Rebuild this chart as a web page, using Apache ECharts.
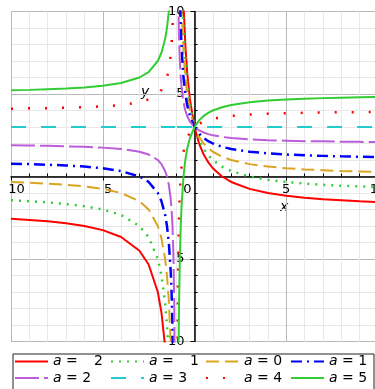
<!DOCTYPE html>
<html><head><meta charset="utf-8">
<script src="https://cdn.jsdelivr.net/npm/echarts@6/dist/echarts.min.js"></script>
<style>html,body{margin:0;padding:0;background:#fff}#c{width:375px;height:389px}</style>
</head><body><div id="c"></div>
<script>
const aValues = [-2, -1, 0, 1, 2, 3, 4, 5];
const leftX  = [-10, -9, -8, -7, -6, -5, -4, -3, -2.5, -2, -1.8, -1.6, -1.5, -1.4, -1.3, -1.25, -1.2, -1.15, -1.1, -1.05];
const rightX = [-0.95, -0.9, -0.85, -0.8, -0.75, -0.7, -0.6, -0.5, -0.4, -0.25, 0, 0.25, 0.5, 0.75, 1, 1.5, 2, 3, 4, 5, 6, 7, 8, 9, 10];

const left_am2 = [-2.56, -2.63, -2.71, -2.83, -3, -3.25, -3.67, -4.5, -5.33, -7, -8.25, -10.33, -12, -14.5, -18.67, -22, -27, -35.33, -52, -102];
const left_am1 = [-1.44, -1.5, -1.57, -1.67, -1.8, -2, -2.33, -3, -3.67, -5, -6, -7.67, -9, -11, -14.33, -17, -21, -27.67, -41, -81];
const left_a0  = [-0.33, -0.38, -0.43, -0.5, -0.6, -0.75, -1, -1.5, -2, -3, -3.75, -5, -6, -7.5, -10, -12, -15, -20, -30, -60];
const left_a1  = [0.78, 0.75, 0.71, 0.67, 0.6, 0.5, 0.33, 0, -0.33, -1, -1.5, -2.33, -3, -4, -5.67, -7, -9, -12.33, -19, -39];
const left_a2  = [1.89, 1.88, 1.86, 1.83, 1.8, 1.75, 1.67, 1.5, 1.33, 1, 0.75, 0.33, 0, -0.5, -1.33, -2, -3, -4.67, -8, -18];
const left_a3  = [3, 3, 3, 3, 3, 3, 3, 3, 3, 3, 3, 3, 3, 3, 3, 3, 3, 3, 3, 3];
const left_a4  = [4.11, 4.13, 4.14, 4.17, 4.2, 4.25, 4.33, 4.5, 4.67, 5, 5.25, 5.67, 6, 6.5, 7.33, 8, 9, 10.67, 14, 24];
const left_a5  = [5.22, 5.25, 5.29, 5.33, 5.4, 5.5, 5.67, 6, 6.33, 7, 7.5, 8.33, 9, 10, 11.67, 13, 15, 18.33, 25, 45];

const right_am2 = [98, 48, 31.33, 23, 18, 14.67, 10.5, 8, 6.33, 4.67, 3, 2, 1.33, 0.86, 0.5, 0, -0.33, -0.75, -1, -1.17, -1.29, -1.38, -1.44, -1.5, -1.55];
const right_am1 = [79, 39, 25.67, 19, 15, 12.33, 9, 7, 5.67, 4.33, 3, 2.2, 1.67, 1.29, 1, 0.6, 0.33, 0, -0.2, -0.33, -0.43, -0.5, -0.56, -0.6, -0.64];
const right_a0  = [60, 30, 20, 15, 12, 10, 7.5, 6, 5, 4, 3, 2.4, 2, 1.71, 1.5, 1.2, 1, 0.75, 0.6, 0.5, 0.43, 0.38, 0.33, 0.3, 0.27];
const right_a1  = [41, 21, 14.33, 11, 9, 7.67, 6, 5, 4.33, 3.67, 3, 2.6, 2.33, 2.14, 2, 1.8, 1.67, 1.5, 1.4, 1.33, 1.29, 1.25, 1.22, 1.2, 1.18];
const right_a2  = [22, 12, 8.67, 7, 6, 5.33, 4.5, 4, 3.67, 3.33, 3, 2.8, 2.67, 2.57, 2.5, 2.4, 2.33, 2.25, 2.2, 2.17, 2.14, 2.13, 2.11, 2.1, 2.09];
const right_a3  = [3, 3, 3, 3, 3, 3, 3, 3, 3, 3, 3, 3, 3, 3, 3, 3, 3, 3, 3, 3, 3, 3, 3, 3, 3];
const right_a4  = [-16, -6, -2.67, -1, 0, 0.67, 1.5, 2, 2.33, 2.67, 3, 3.2, 3.33, 3.43, 3.5, 3.6, 3.67, 3.75, 3.8, 3.83, 3.86, 3.88, 3.89, 3.9, 3.91];
const right_a5  = [-35, -15, -8.33, -5, -3, -1.67, 0, 1, 1.67, 2.33, 3, 3.4, 3.67, 3.86, 4, 4.2, 4.33, 4.5, 4.6, 4.67, 4.71, 4.75, 4.78, 4.8, 4.82];

const axisTicks = [-10, -5, 0, 5, 10];

const leftYs  = [left_am2, left_am1, left_a0, left_a1, left_a2, left_a3, left_a4, left_a5];
const rightYs = [right_am2, right_am1, right_a0, right_a1, right_a2, right_a3, right_a4, right_a5];

const styles = [
  {color: '#ff0000', type: 'solid', width: 2},
  {color: '#33cc33', type: [2, 6], width: 2.5},
  {color: '#daa520', type: [13, 6], width: 2},
  {color: '#0000ff', type: [11, 5, 2, 5], width: 2.5},
  {color: '#bb5ddb', type: [24, 5], width: 2},
  {color: '#22cccc', type: [15, 15], width: 2},
  {color: '#ff0000', type: [2, 15], width: 2.5},
  {color: '#33cc33', type: 'solid', width: 2}
];

const names = aValues.map(a => 'a = ' + (a < 0 ? '\u2212' : '') + Math.abs(a));
const labelFor = {};
aValues.forEach((a, i) => {
  labelFor[names[i]] = '{i|a} = ' + (a < 0 ? '{h|\u2212}' : '') + Math.abs(a);
});

const FONT = 'DejaVu Sans';

const series = aValues.map((a, i) => ({
  name: names[i],
  type: 'line',
  symbol: 'none',
  showSymbol: false,
  clip: true,
  animation: false,
  data: leftX.map((x, k) => [x, leftYs[i][k]])
        .concat([[-1, null]])
        .concat(rightX.map((x, k) => [x, rightYs[i][k]])),
  connectNulls: false,
  lineStyle: {color: styles[i].color, type: styles[i].type, width: styles[i].width, cap: 'butt'},
  itemStyle: {color: styles[i].color},
  z: 3 + i
}));

const colX = [14, 110, 205, 290];
const legends = [0, 1, 2, 3].map(c => ({
  orient: 'vertical',
  left: colX[c],
  top: 354.5,
  itemWidth: 33,
  itemHeight: 14,
  itemGap: 2.6,
  padding: 0,
  selectedMode: false,
  itemStyle: {opacity: 0},
  data: [names[c], names[c + 4]],
  formatter: n => labelFor[n],
  textStyle: {
    fontFamily: FONT, fontSize: 14, color: '#000',
    rich: {i: {fontStyle: 'italic', fontFamily: FONT, fontSize: 14}, h: {color: 'transparent', fontFamily: FONT, fontSize: 14}}
  }
}));

function tickFmt(v, isX) {
  if (v === 0) return isX ? '{z|0}' : '';
  return (v < 0 ? '{h|\u2212}' : '') + Math.abs(v);
}

// grid geometry (px)
const G = {left: 11, top: 11.5, width: 367, height: 330};

const axisCommon = {
  type: 'value', min: axisTicks[0], max: axisTicks[axisTicks.length - 1], interval: 5,
  axisLine: {onZero: false, lineStyle: {color: '#000', width: 1.5}},
  axisTick: {show: true, length: 4, lineStyle: {color: '#000', width: 1}},
  minorTick: {show: true, splitNumber: 5, length: -3, lineStyle: {color: '#000', width: 1}},
  splitLine: {show: true, lineStyle: {color: '#b8b8b8', width: 1}},
  minorSplitLine: {show: true, lineStyle: {color: '#e8e8e8', width: 1}}
};

const option = {
  animation: false,
  backgroundColor: '#fff',
  grid: {left: G.left, top: G.top, width: G.width, height: G.height,
         outerBounds: {left: -200, top: -200, right: -200, bottom: -200}},
  xAxis: Object.assign({}, axisCommon, {
    position: 'bottom',
    offset: -G.height / 2,
    axisLabel: {
      fontFamily: FONT, fontSize: 13, color: '#000', margin: 7,
      showMinLabel: true, showMaxLabel: true,
      formatter: v => tickFmt(v, true),
      rich: {h: {color: 'transparent', fontFamily: FONT, fontSize: 13}, z: {padding: [0, 14, 0, 0], fontFamily: FONT, fontSize: 13}}
    }
  }),
  yAxis: Object.assign({}, axisCommon, {
    position: 'left',
    offset: -G.width / 2,
    axisLabel: {
      fontFamily: FONT, fontSize: 13, color: '#000', margin: 10,
      showMinLabel: true, showMaxLabel: true,
      formatter: v => tickFmt(v, false),
      rich: {h: {color: 'transparent', fontFamily: FONT, fontSize: 13}}
    }
  }),
  legend: legends,
  graphic: [
    {type: 'rect', left: 10.5, top: 351.5, shape: {x: 0, y: 0, width: 361, height: 36},
     style: {fill: 'none', stroke: '#222', lineWidth: 1}, silent: true, z: 100},
    {type: 'text', left: 280, top: 200, style: {text: 'x', font: 'italic 14px "DejaVu Sans"', fill: '#000'}},
    {type: 'text', left: 141, top: 85, style: {text: 'y', font: 'italic 14px "DejaVu Sans"', fill: '#000'}}
  ],
  series: series
};

const chart = echarts.init(document.getElementById('c'), null, {renderer: 'canvas'});
chart.setOption(option);
</script>
</body></html>
